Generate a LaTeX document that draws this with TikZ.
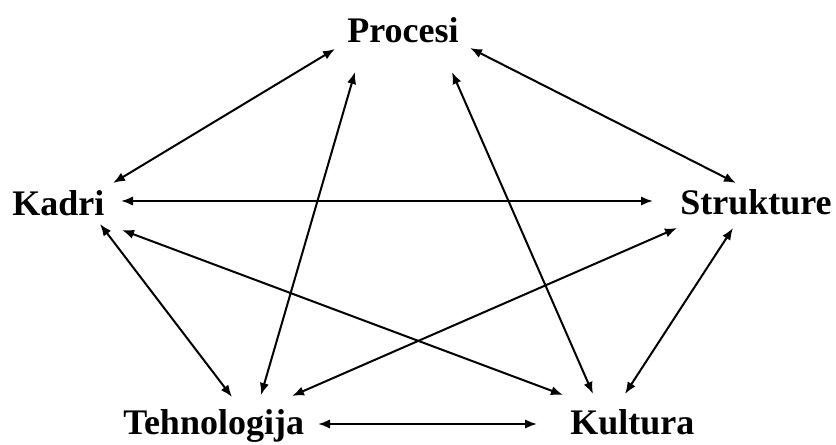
\documentclass[tikz,border=0pt]{standalone}
\usepackage{fontspec}
\setmainfont{Liberation Serif}
\usetikzlibrary{arrows.meta}
\begin{document}
\begin{tikzpicture}[x=0.75pt,y=-0.75pt,
  lbl/.style={anchor=base west,inner sep=0pt,font=\fontsize{27}{30}\selectfont\bfseries},
  link/.style={{Latex[length=9pt,width=7pt]}-{Latex[length=9pt,width=7pt]},line width=1.5pt}]
\useasboundingbox[fill=white] (0,0) rectangle (836,445);
\node[lbl] (procesi) at (347,43) {Procesi};
\node[lbl] (kadri) at (12,216) {Kadri};
\node[lbl] (strukture) at (680,215) {Strukture};
\node[lbl] (tehno) at (123,435) {Tehnologija};
\node[lbl] (kultura) at (570,435) {Kultura};
% connector end points
\coordinate (pK) at (335,49);   \coordinate (kP) at (113,183);
\coordinate (pS) at (470,48);   \coordinate (sP) at (736,183);
\coordinate (kS) at (121,201);  \coordinate (sK) at (653,201);
\coordinate (pT) at (355,72);   \coordinate (tP) at (261,395);
\coordinate (pU) at (452,72);   \coordinate (uP) at (593,394);
\coordinate (kT) at (100,224);  \coordinate (tK) at (232,397);
\coordinate (kU) at (122,230);  \coordinate (uK) at (563,395);
\coordinate (sT) at (677,228);  \coordinate (tS) at (292,396);
\coordinate (sU) at (733,228);  \coordinate (uS) at (625,394);
\coordinate (tU) at (318,424);  \coordinate (uT) at (537,424);
\draw[link] (pK) -- (kP);
\draw[link] (pS) -- (sP);
\draw[link] (kS) -- (sK);
\draw[link] (pT) -- (tP);
\draw[link] (pU) -- (uP);
\draw[link] (kT) -- (tK);
\draw[link] (kU) -- (uK);
\draw[link] (sT) -- (tS);
\draw[link] (sU) -- (uS);
\draw[link] (tU) -- (uT);
\end{tikzpicture}
\end{document}
